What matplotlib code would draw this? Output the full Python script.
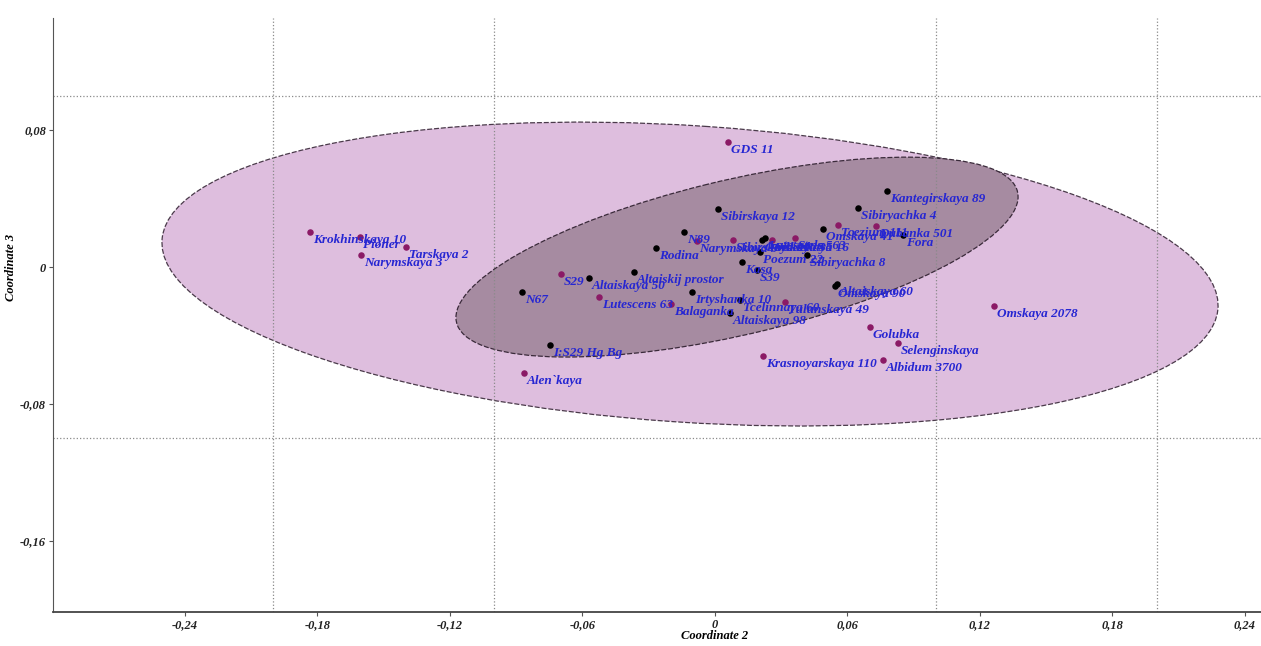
import numpy as np
import matplotlib
matplotlib.use("Agg")
import matplotlib.pyplot as plt
from matplotlib.patches import Ellipse
from matplotlib.ticker import FixedLocator, FuncFormatter

# group 1 (black points, inner ellipse)
g1_names = ["Kantegirskaya 89", "Sibiryachka 4", "Sibirskaya 12", "Omskaya 41", "Fora",
            "N89", "Rodina", "Omskaya 35", "Lutescens 563", "Poezum 22", "Sibiryachka 8",
            "Kasa", "S39", "Altaiskij prostor", "Altaiskaya 50", "N67", "Irtyshanka 10",
            "Tcelinnaya 60", "Altaiskaya 98", "Omskaya 90", "Altaiskaya 60", "I:S29 Hg Bg"]
g1_x = [0.0779, 0.0648, 0.0014, 0.0489, 0.0851,
        -0.0140, -0.0267, 0.0213, 0.0226, 0.0204, 0.0417,
        0.0122, 0.0190, -0.0367, -0.0571, -0.0874, -0.0104,
        0.0113, 0.0068, 0.0543, 0.0553, -0.0747]
g1_y = [0.0444, 0.0345, 0.0339, 0.0222, 0.0187,
        0.0204, 0.0111, 0.0158, 0.0169, 0.0088, 0.0070,
        0.0029, -0.0018, -0.0029, -0.0064, -0.0146, -0.0146,
        -0.0193, -0.0269, -0.0111, -0.0099, -0.0455]

# group 2 (purple points, outer ellipse)
g2_names = ["GDS 11", "Krokhinskaya 10", "Pioner", "Tarskaya 2", "Narymskaya 3",
            "S29", "Lutescens 63", "Balaganka", "Narymskaya 5", "Sibirskaya 21",
            "Sibirskaya 16", "Stela", "Tcezium 111", "Dubanka 501", "Tulunskaya 49",
            "Krasnoyarskaya 110", "Golubka", "Selenginskaya", "Albidum 3700",
            "Omskaya 2078", "Alen`kaya"]
g2_x = [0.0059, -0.1834, -0.1608, -0.1399, -0.1603,
        -0.0697, -0.0525, -0.0199, -0.0082, 0.0082,
        0.0258, 0.0362, 0.0557, 0.0729, 0.0317,
        0.0217, 0.0702, 0.0829, 0.0761,
        0.1264, -0.0865]
g2_y = [0.0730, 0.0204, 0.0175, 0.0117, 0.0070,
        -0.0041, -0.0175, -0.0216, 0.0152, 0.0158,
        0.0158, 0.0169, 0.0245, 0.0239, -0.0204,
        -0.0520, -0.0350, -0.0444, -0.0543,
        -0.0228, -0.0619]

# 95% ellipses: centre and covariance (xx, yy, xy)
g2_center = (-0.0113, -0.0041)
g2_cov = (0.05719, 0.007876, -0.00439)
g1_center = (0.0100, 0.0058)
g1_cov = (0.016203, 0.003407, 0.004491)

x_ticks = [-0.24, -0.18, -0.12, -0.06, 0, 0.06, 0.12, 0.18, 0.24]
y_ticks = [-0.16, -0.08, 0, 0.08]
x_grid = [-0.2, -0.1, 0, 0.1, 0.2]
y_grid = [-0.1, 0, 0.1]

serif = "Liberation Serif"


def cov_ellipse(center, cov, **kw):
    sxx, syy, sxy = cov
    vals, vecs = np.linalg.eigh(np.array([[sxx, sxy], [sxy, syy]]))
    ang = np.degrees(np.arctan2(vecs[1, 1], vecs[0, 1]))
    return Ellipse(center, 2 * np.sqrt(vals[1]), 2 * np.sqrt(vals[0]), angle=ang, **kw)


def comma(v, pos):
    if abs(v) < 1e-9:
        return "0"
    return ("%.2f" % v).replace(".", ",")


fig = plt.figure(figsize=(12.61, 6.46), dpi=100)
ax = fig.add_axes([0.042, 0.0526, 0.958, 0.9194])

ax.add_patch(cov_ellipse(g2_center, g2_cov, facecolor="#DEBEDE", edgecolor="#4a3a4a",
                         lw=0.9, ls=(0, (4, 1.5)), zorder=0.6))
ax.add_patch(cov_ellipse(g1_center, g1_cov, facecolor="#A68BA1", edgecolor="#3a2a3a",
                         lw=0.9, ls=(0, (4, 1.5)), zorder=0.7))

ax.scatter(g2_x, g2_y, s=22, color="#8B1A66", zorder=3, linewidths=0)
ax.scatter(g1_x, g1_y, s=22, color="#000000", zorder=3, linewidths=0)

for names, xs, ys in ((g2_names, g2_x, g2_y), (g1_names, g1_x, g1_y)):
    for n, x, y in zip(names, xs, ys):
        ax.annotate(n, (x, y), xytext=(2, -5.5), textcoords="offset points",
                    ha="left", va="center", fontsize=9.5, family=serif,
                    weight="bold", style="italic", color="#2626D2", zorder=4)

ax.set_xlim(-0.2998, 0.2473)
ax.set_ylim(-0.2015, 0.1454)
ax.set_xticks(x_ticks)
ax.set_yticks(y_ticks)
ax.xaxis.set_major_formatter(FuncFormatter(comma))
ax.yaxis.set_major_formatter(FuncFormatter(comma))

# dotted grid on the 0.1 steps only
ax.xaxis.set_minor_locator(FixedLocator(x_grid))
ax.yaxis.set_minor_locator(FixedLocator(y_grid))
ax.grid(which="minor", color="#8a8a8a", ls=":", lw=0.9)
ax.tick_params(which="minor", length=0)
ax.tick_params(which="major", length=3, width=0.8, color="#555555", labelsize=9,
               labelcolor="#222222", pad=2)
for lab in ax.get_xticklabels() + ax.get_yticklabels():
    lab.set_family(serif)
    lab.set_weight("bold")
    lab.set_style("italic")

for s in ("top", "right"):
    ax.spines[s].set_visible(False)
ax.spines["left"].set_color("#555555")
ax.spines["bottom"].set_color("#444444")
ax.spines["bottom"].set_linewidth(1.3)

ax.set_xlabel("Coordinate 2", family=serif, weight="bold", style="italic", fontsize=9)
ax.set_ylabel("Coordinate 3", family=serif, weight="bold", style="italic", fontsize=9)
ax.xaxis.set_label_coords(0.548, -0.031)
ax.yaxis.set_label_coords(-0.03, 0.58)

fig.savefig("out.png", dpi=100)
